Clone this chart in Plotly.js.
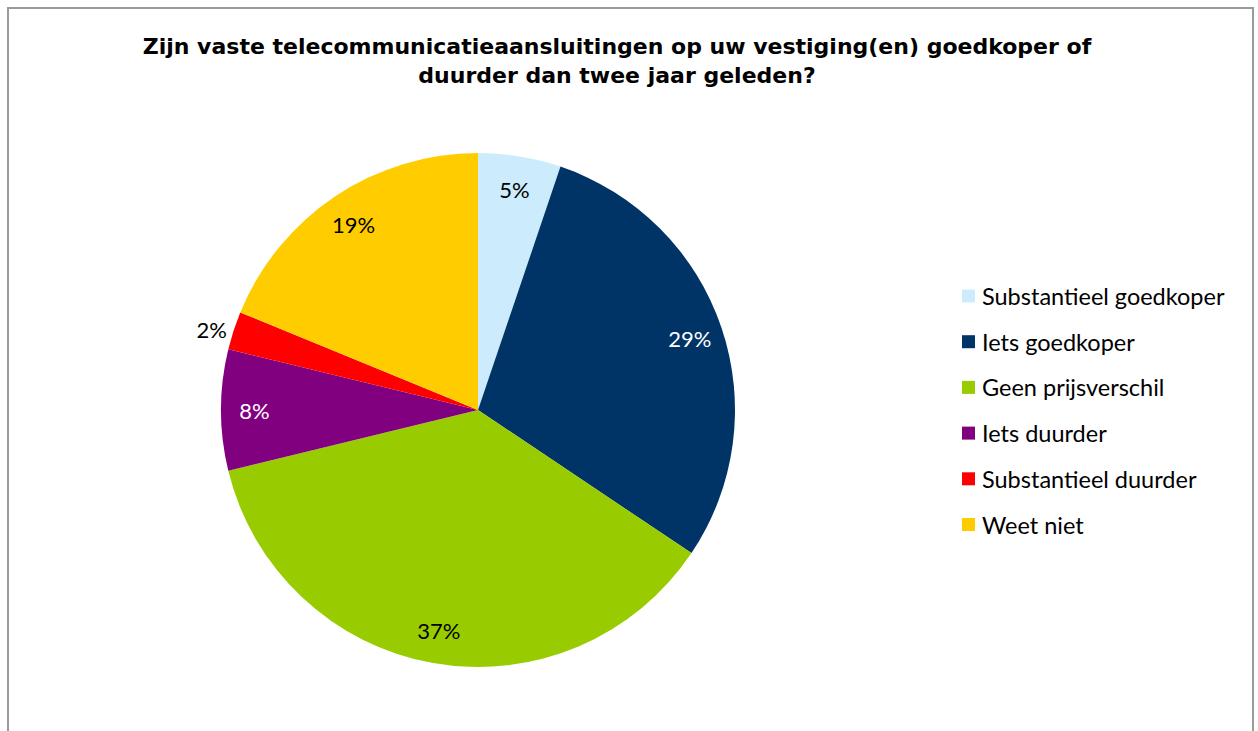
<!DOCTYPE html>
<html>
<head>
<meta charset="utf-8">
<script src="https://cdn.plot.ly/plotly-3.0.1.min.js"></script>
<style>
  body { margin: 0; background: #ffffff; }
  #chart { position: absolute; left: 0; top: 0; width: 1258px; height: 731px; }
  #rand { position: absolute; left: 7px; top: 7px; width: 1243px; height: 800px;
          border: 2px solid #9a9a9a; pointer-events: none; }
</style>
</head>
<body>
<div id="chart"></div>
<div id="rand"></div>
<script>
//---------------------------------------data - start-----------------------------------------------
var labels = ['Substantieel goedkoper', 'Iets goedkoper', 'Geen prijsverschil',
              'Iets duurder', 'Substantieel duurder', 'Weet niet'];
var values = [5.2, 29.2, 36.8, 7.6, 2.4, 18.8];
var colors = ['#CCEBFC', '#003366', '#99CC00', '#800080', '#FF0000', '#FFCC00'];
var text_colors = ['#000000', '#FFFFFF', '#000000', '#FFFFFF', '#000000', '#000000'];
var text_positions = ['inside', 'inside', 'inside', 'inside', 'outside', 'inside'];
//---------------------------------------data - end-----------------------------------------------

var label_family = "Lato, 'Open Sans', sans-serif";
var pie_domain = { x: [221 / 1258, 735 / 1258], y: [1 - 667 / 731, 1 - 153 / 731] };

// de taart zelf, zonder tekst
var trace_pie = {
  type: 'pie',
  labels: labels,
  values: values,
  sort: false,
  direction: 'clockwise',
  rotation: 0,
  marker: { colors: colors, line: { width: 0 } },
  textinfo: 'none',
  showlegend: false,
  hoverinfo: 'label+percent',
  domain: pie_domain
};

// doorzichtige ring erover: zet de percentages dicht bij de rand, zoals Excel
var trace_labels = {
  type: 'pie',
  labels: labels,
  values: values,
  sort: false,
  direction: 'clockwise',
  rotation: 0,
  hole: 0.74,
  marker: { colors: labels.map(function () { return 'rgba(0,0,0,0)'; }), line: { width: 0 } },
  texttemplate: '%{percent:.0%}',
  textposition: text_positions,
  insidetextorientation: 'horizontal',
  insidetextfont: { family: label_family, size: 22, color: text_colors },
  outsidetextfont: { family: label_family, size: 22, color: '#000000' },
  showlegend: false,
  hoverinfo: 'skip',
  domain: pie_domain
};

// legenda zelf tekenen (Excel-afstand tussen items is groter dan Plotly toelaat)
var legend_shapes = [];
var legend_notes = [];
for (var i = 0; i < labels.length; i++) {
  var yc = 296 + i * 45.7;
  legend_shapes.push({
    type: 'rect', xref: 'paper', yref: 'paper',
    x0: 962 / 1258, x1: 975 / 1258,
    y0: 1 - (yc + 6.5) / 731, y1: 1 - (yc - 6.5) / 731,
    fillcolor: colors[i], line: { width: 0 }
  });
  legend_notes.push({
    xref: 'paper', yref: 'paper', x: 980 / 1258, y: 1 - yc / 731,
    xanchor: 'left', yanchor: 'middle', showarrow: false,
    text: labels[i],
    font: { family: label_family, size: 23.5, color: '#000000' }
  });
}

var layout_pie = {
  title: {
    text: 'Zijn vaste telecommunicatieaansluitingen op uw vestiging(en) goedkoper of<br>duurder dan twee jaar geleden?',
    font: { family: "'DejaVu Sans', Verdana, sans-serif", size: 22, color: '#000000', weight: 'bold' },
    x: 617 / 1258, xanchor: 'center',
    y: 1 - 54 / 731, yanchor: 'middle', yref: 'container'
  },
  width: 1258,
  height: 731,
  margin: { t: 0, r: 0, l: 0, b: 0 },
  paper_bgcolor: '#ffffff',
  plot_bgcolor: '#ffffff',
  showlegend: false,
  uniformtext: { mode: 'show', minsize: 22 },
  shapes: legend_shapes,
  annotations: legend_notes
};

Plotly.newPlot('chart', [trace_pie, trace_labels], layout_pie, { displayModeBar: false, displaylogo: false });
</script>
</body>
</html>
